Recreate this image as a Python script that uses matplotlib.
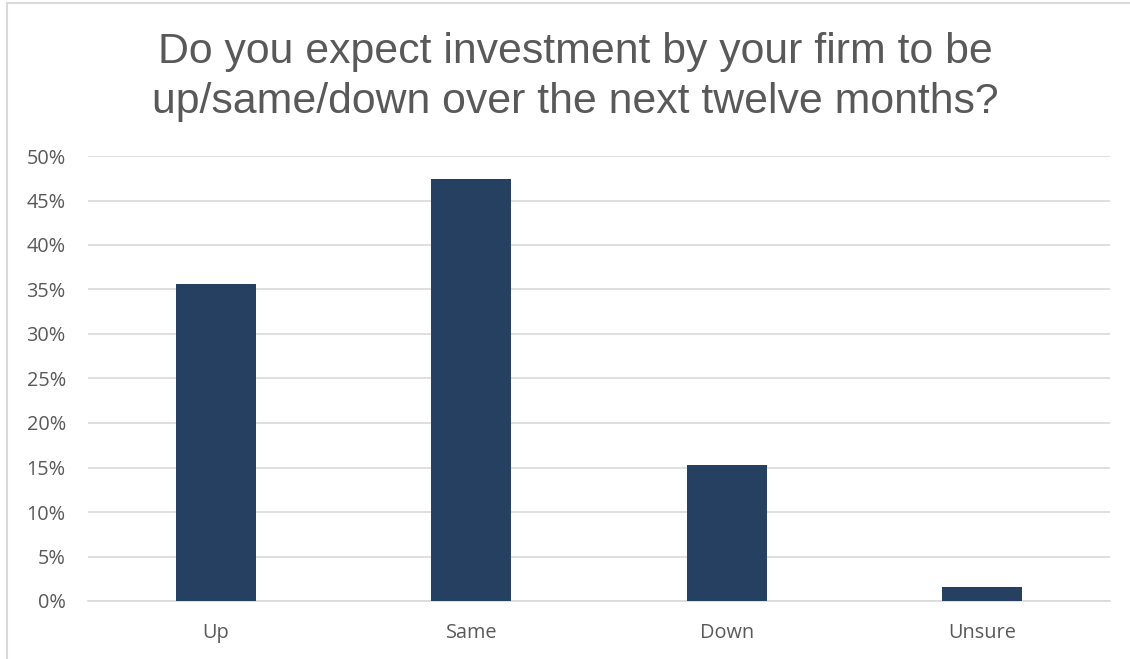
import matplotlib
matplotlib.use("Agg")
import matplotlib.pyplot as plt
from matplotlib.ticker import FuncFormatter, MultipleLocator
from matplotlib.patches import Rectangle

categories = ["Up", "Same", "Down", "Unsure"]
shares = [0.3558, 0.4745, 0.1525, 0.0160]
title = "Do you expect investment by your firm to be\nup/same/down over the next twelve months?"

plt.rcParams['font.family'] = ['Open Sans', 'DejaVu Sans']
text_color = "#595959"
bar_color = "#264061"
grid_color = "#d9d9d9"

W, H = 1130, 659
fig = plt.figure(figsize=(W / 100, H / 100), dpi=100)
ax = fig.add_axes([88 / W, 1 - 601 / H, (1110 - 88) / W, (601 - 156) / H])

x = range(len(categories))
ax.bar(x, shares, width=0.313, color=bar_color, zorder=3)

ax.set_xlim(-0.5, len(categories) - 0.5)
ax.set_ylim(0, 0.5)
ax.yaxis.set_major_locator(MultipleLocator(0.05))
ax.yaxis.set_major_formatter(FuncFormatter(lambda v, _: f"{v * 100:.0f}%"))
ax.set_xticks(list(x))
ax.set_xticklabels(categories)
ax.grid(axis="y", color=grid_color, linewidth=1.2, zorder=0)
for side in ["top", "right", "left"]:
    ax.spines[side].set_visible(False)
ax.spines["bottom"].set_color(grid_color)
ax.spines["bottom"].set_linewidth(1.2)
ax.tick_params(axis="both", length=0, colors=text_color, labelsize=14.3)
ax.tick_params(axis="y", pad=16)
ax.tick_params(axis="x", pad=16)

fig.text(575 / W, 1 - 77 / H, title, ha="center", va="center",
         fontsize=30.8, color=text_color, linespacing=1.3,
         family=["Liberation Sans", "DejaVu Sans"])

# chart-area frame (left and top edges)
fig.add_artist(Rectangle((7 / W, -0.1), 1.2, 1.1 - 3 / H, transform=fig.transFigure,
                         fill=False, edgecolor=grid_color, linewidth=1.5))

fig.savefig("out.png", dpi=100, facecolor="white")
